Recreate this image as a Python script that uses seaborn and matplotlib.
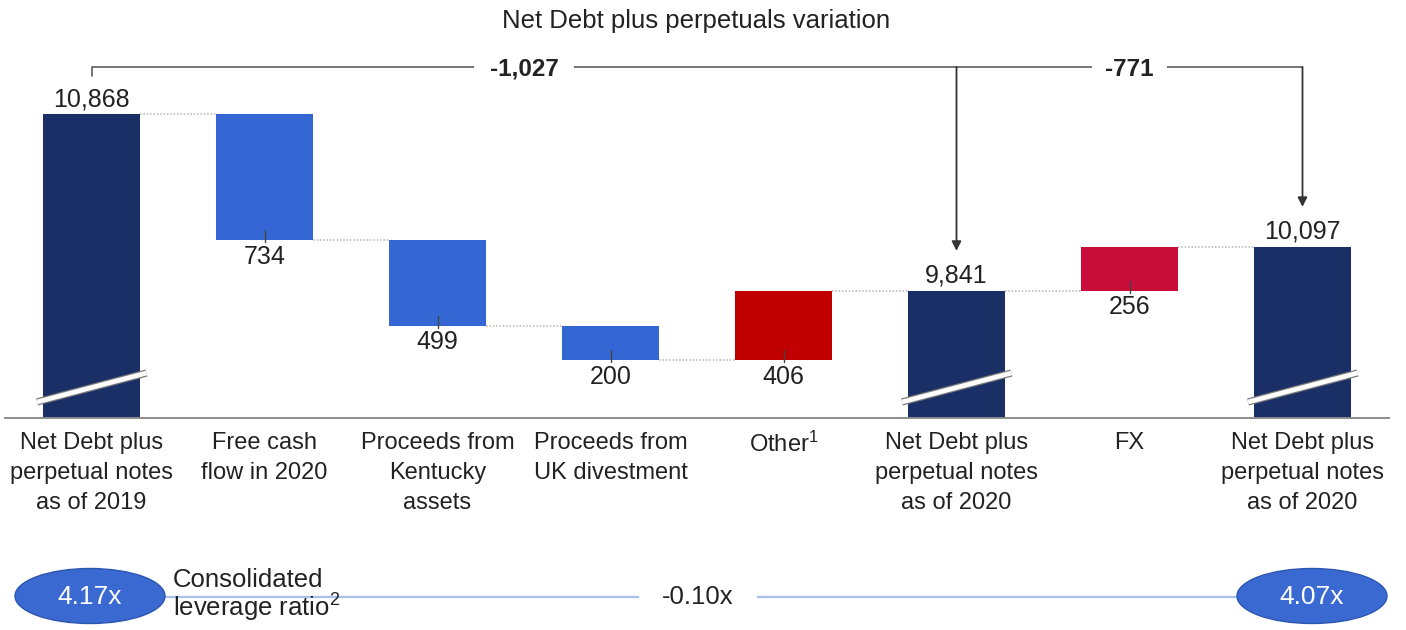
import matplotlib
matplotlib.use("Agg")
import matplotlib.pyplot as plt
from matplotlib.patches import Ellipse
import seaborn as sns

# ---- data -------------------------------------------------------------
steps = ["debt_2019", "fcf", "kentucky", "uk", "other", "debt_2020", "fx", "debt_2020_fx"]
step_labels = [
    "Net Debt plus\nperpetual notes\nas of 2019",
    "Free cash\nflow in 2020",
    "Proceeds from\nKentucky\nassets",
    "Proceeds from\nUK divestment",
    "Other$^{1}$",
    "Net Debt plus\nperpetual notes\nas of 2020",
    "FX",
    "Net Debt plus\nperpetual notes\nas of 2020",
]
step_kind = ["total", "delta", "delta", "delta", "delta", "total", "delta", "total"]
step_values = [10868, -734, -499, -200, 406, 9841, 256, 10097]

leverage_start = 4.17
leverage_end = 4.07

# ---- colours ----------------------------------------------------------
NAVY = "#1b2f67"
BLUE = "#3467d3"
RED = "#c00000"
CRIMSON = "#c80d3b"
GREY_LINE = "#6a6a6a"
TEXT = "#222222"

step_colors = [NAVY, BLUE, BLUE, BLUE, RED, NAVY, CRIMSON, NAVY]

# ---- waterfall geometry from the values --------------------------------
bottoms, heights, levels = [], [], []
level = 0
for kind, v in zip(step_kind, step_values):
    if kind == "total":
        bottoms.append(0)
        heights.append(v)
        level = v
    else:
        new_level = level + v
        bottoms.append(min(level, new_level))
        heights.append(abs(v))
        level = new_level
    levels.append(level)

# ---- figure -----------------------------------------------------------
sns.set_style("white")
plt.rcParams["font.family"] = ["Liberation Sans", "DejaVu Sans"]
plt.rcParams["mathtext.fontset"] = "custom"
plt.rcParams["mathtext.rm"] = "Liberation Sans"
plt.rcParams["mathtext.default"] = "regular"

W, H = 1406, 630
fig = plt.figure(figsize=(W / 100, H / 100), dpi=100)

base_px = 418          # pixel row of the baseline
y_low, y_per_px = 9100, 1 / 0.1717
y_high = y_low + base_px * y_per_px
ax = fig.add_axes([5 / W, (H - base_px) / H, 1384 / W, base_px / H])


def px(n):
    return n * y_per_px


sns.barplot(x=steps, y=heights, bottom=bottoms, order=steps, width=0.555,
            color=NAVY, saturation=1, ax=ax, linewidth=0)
for patch, c in zip(ax.patches, step_colors):
    patch.set_facecolor(c)
    patch.set_edgecolor("none")

ax.set_xlim(-0.5, len(steps) - 0.5)
ax.set_ylim(y_low, y_high)
ax.set_ylabel("")
ax.set_yticks([])
for side in ("left", "right", "top"):
    ax.spines[side].set_visible(False)
ax.spines["bottom"].set_color("#8c8c8c")
ax.spines["bottom"].set_linewidth(1.4)
ax.set_xticks(range(len(steps)))
ax.set_xticklabels(step_labels, fontsize=17, color=TEXT, linespacing=1.47)
ax.tick_params(axis="x", length=0, pad=10)

half = 0.555 / 2

# dotted connectors between consecutive bars
for i in range(len(steps) - 1):
    ax.plot([i + half, i + 1 - half], [levels[i], levels[i]], ls=(0, (1, 1.2)),
            color="#b5b5b5", lw=1.1, zorder=1)

# value labels
for i, (kind, v) in enumerate(zip(step_kind, step_values)):
    if kind == "total":
        ax.annotate(f"{v:,}", (i, v), xytext=(0, 6), textcoords="offset points",
                    ha="center", va="baseline", fontsize=18, color=TEXT)
    else:
        b = bottoms[i]
        ax.plot([i, i], [b - px(2), b + px(10)], color="#444444", lw=1, zorder=3)
        ax.annotate(f"{abs(v):,}", (i, b), xytext=(0, -3), textcoords="offset points",
                    ha="center", va="top", fontsize=18, color=TEXT)

# axis-break slashes on the truncated total bars
for i, kind in enumerate(step_kind):
    if kind == "total":
        xs = [i - 0.315, i + 0.318]
        ys = [y_low + px(16), y_low + px(45)]
        ax.plot(xs, ys, color="#7a7a7a", lw=5.2, solid_capstyle="butt", zorder=4, clip_on=False)
        ax.plot(xs, ys, color="white", lw=3.4, solid_capstyle="butt", zorder=5, clip_on=False)

# variation brackets
i_a, i_b, i_c = 0, 5, 7
bracket_y = y_low + px(base_px - 67)
ax.plot([i_a, i_a], [bracket_y - px(9), bracket_y], color=GREY_LINE, lw=1.3, clip_on=False)
ax.plot([i_a, i_c], [bracket_y, bracket_y], color=GREY_LINE, lw=1.3, clip_on=False,
        solid_capstyle="butt")
for i in (i_b, i_c):
    ax.annotate("", xy=(i, step_values[i] + px(40)), xytext=(i, bracket_y),
                arrowprops=dict(arrowstyle="-|>,head_length=0.55,head_width=0.28",
                                color="#333333", lw=1.3, shrinkA=0, shrinkB=0),
                annotation_clip=False)

var_1 = step_values[i_b] - step_values[i_a]
var_2 = step_values[i_c] - step_values[i_a]
for (x0, x1), v, pad in (((i_a, i_b), var_1, 0.65), ((i_b, i_c), var_2, 0.55)):
    ax.text((x0 + x1) / 2, bracket_y - px(2), f"{v:,}", ha="center",
            va="center", fontsize=17.5, fontweight="bold", color=TEXT, zorder=6,
            bbox=dict(boxstyle=f"square,pad={pad}", fc="white", ec="none"))

fig.text(696 / W, 1 - 28 / H, "Net Debt plus perpetuals variation", ha="center",
         va="baseline", fontsize=18.5, color=TEXT)

# ---- leverage ratio strip --------------------------------------------
axb = fig.add_axes([0, 0, 1, 1], zorder=-1)
axb.set_xlim(0, W)
axb.set_ylim(H, 0)
axb.axis("off")

row_y = 596
left_c, right_c = (90, row_y), (1312, row_y)
axb.plot([165, 1237], [597, 597], color="#a9bfec", lw=1.6, zorder=1)
for (cx, cy), val in ((left_c, leverage_start), (right_c, leverage_end)):
    axb.add_patch(Ellipse((cx, cy), 150, 55, fc="#3a69d2", ec="#2c55b0", lw=1, zorder=2))
    axb.text(cx, cy + 1, f"{val:.2f}x", ha="center", va="center", fontsize=19,
             color="white", zorder=3)

axb.text(698, 597, f"{leverage_end - leverage_start:.2f}x", ha="center", va="center",
         fontsize=18.5, color=TEXT, zorder=3,
         bbox=dict(boxstyle="square,pad=0.9", fc="white", ec="none"))
axb.text(173, 587, "Consolidated", ha="left", va="baseline", fontsize=18.5, color=TEXT)
axb.text(173, 617, "leverage ratio$^{2}$", ha="left", va="baseline", fontsize=18.5, color=TEXT)

fig.savefig("out.png", dpi=100, facecolor="white")
